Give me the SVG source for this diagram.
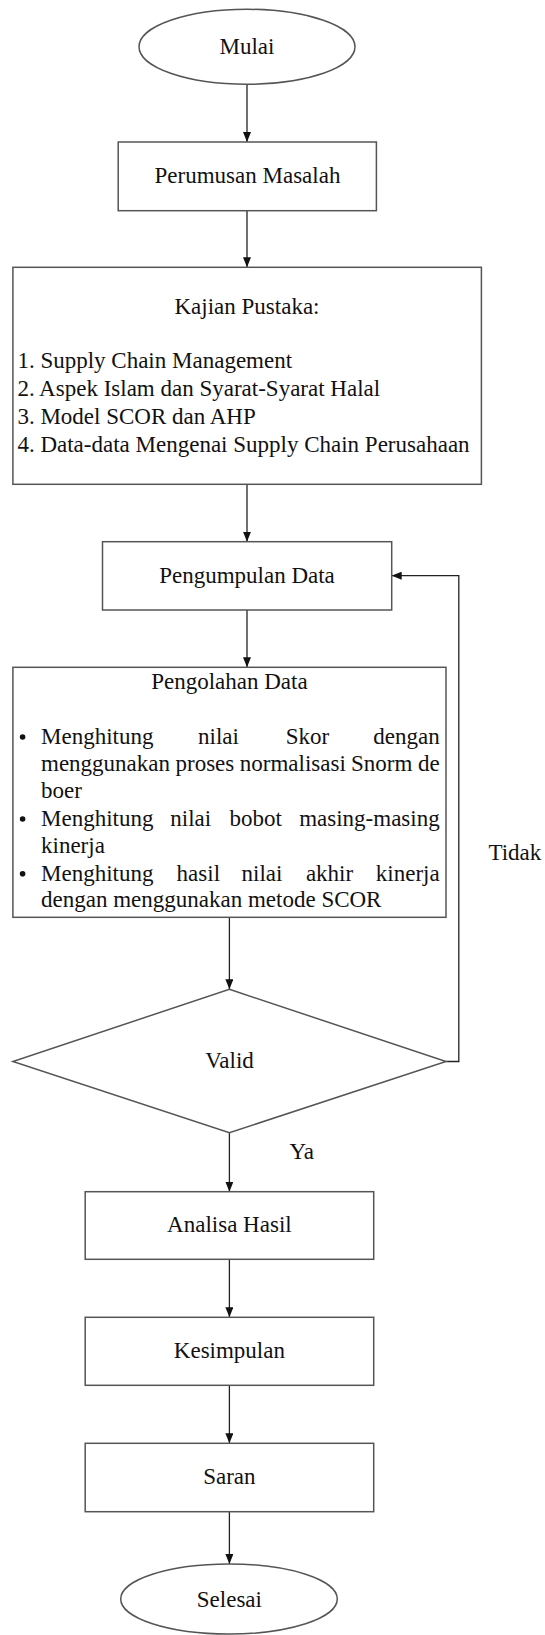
<svg xmlns="http://www.w3.org/2000/svg" width="545" height="1635" viewBox="0 0 545 1635" font-family="Liberation Serif, serif">
<style>
.box{fill:#fff;stroke:#555;stroke-width:1.5}
.t{font-family:'Liberation Serif',serif;font-size:23px;fill:#111}
.c{text-anchor:middle}
.e{text-anchor:end}
.ln{fill:none;stroke:#222;stroke-width:1.3}
</style>
<defs>
<marker id="ah" markerUnits="userSpaceOnUse" markerWidth="10" markerHeight="8" refX="10" refY="4" orient="auto">
<path d="M0,0 L10,4 L0,8 z" fill="#111"/>
</marker>
</defs>
<rect width="545" height="1635" fill="#fff"/>
<g id="connectors">
<line class="ln" x1="247" y1="84.5" x2="247" y2="142" marker-end="url(#ah)"/>
<line class="ln" x1="247" y1="210.7" x2="247" y2="267.3" marker-end="url(#ah)"/>
<line class="ln" x1="247" y1="484.3" x2="247" y2="541.7" marker-end="url(#ah)"/>
<line class="ln" x1="247" y1="610" x2="247" y2="667.3" marker-end="url(#ah)"/>
<line class="ln" x1="229.4" y1="917.3" x2="229.4" y2="989.3" marker-end="url(#ah)"/>
<polyline class="ln" points="446,1061.5 458.8,1061.5 458.8,575.7 391.7,575.7" marker-end="url(#ah)"/>
<line class="ln" x1="229.4" y1="1132.7" x2="229.4" y2="1191.7" marker-end="url(#ah)"/>
<line class="ln" x1="229.4" y1="1259.3" x2="229.4" y2="1317.3" marker-end="url(#ah)"/>
<line class="ln" x1="229.4" y1="1385.3" x2="229.4" y2="1443.3" marker-end="url(#ah)"/>
<line class="ln" x1="229.4" y1="1511.7" x2="229.4" y2="1564" marker-end="url(#ah)"/>
<text class="t" x="488.4" y="860">Tidak</text>
<text class="t" x="289.5" y="1159.3">Ya</text>
</g>
<g id="mulai">
<ellipse class="box" cx="247" cy="46.8" rx="108" ry="37.5"/>
<text class="t c" x="247" y="54">Mulai</text>
</g>
<g id="perumusan">
<rect class="box" x="118.2" y="142" width="258.2" height="68.7"/>
<text class="t c" x="247.5" y="183">Perumusan Masalah</text>
</g>
<g id="kajian">
<rect class="box" x="12.9" y="267.3" width="468.5" height="217"/>
<text class="t c" x="247" y="314">Kajian Pustaka:</text>
<text class="t" x="17.4" y="368.3">1. Supply Chain Management</text>
<text class="t" x="17.4" y="396.3">2. Aspek Islam dan Syarat-Syarat Halal</text>
<text class="t" x="17.4" y="424.3">3. Model SCOR dan AHP</text>
<text class="t" x="17.4" y="451.7">4. Data-data Mengenai Supply Chain Perusahaan</text>
</g>
<g id="pengumpulan">
<rect class="box" x="102.5" y="541.7" width="289.2" height="68.3"/>
<text class="t c" x="247" y="582.7">Pengumpulan Data</text>
</g>
<g id="pengolahan">
<rect class="box" x="12.9" y="667.3" width="433.1" height="250"/>
<text class="t c" x="229.4" y="689.3">Pengolahan Data</text>
<circle cx="22.6" cy="737" r="2.8" fill="#111"/>
<circle cx="22.6" cy="819" r="2.8" fill="#111"/>
<circle cx="22.6" cy="873.7" r="2.8" fill="#111"/>
<text class="t" y="744"><tspan x="41">Menghitung</tspan><tspan x="198.1">nilai</tspan><tspan x="285.7">Skor</tspan></text>
<text class="t e" x="439.7" y="744">dengan</text>
<text class="t" y="771"><tspan x="41">menggunakan</tspan><tspan x="175.5">proses</tspan><tspan x="239.8">normalisasi</tspan><tspan x="351">Snorm</tspan></text>
<text class="t e" x="439.7" y="771">de</text>
<text class="t" x="41" y="798.3">boer</text>
<text class="t" y="826"><tspan x="41">Menghitung</tspan><tspan x="170.3">nilai</tspan><tspan x="229.4">bobot</tspan></text>
<text class="t e" x="439.7" y="826">masing-masing</text>
<text class="t" x="41" y="853.3">kinerja</text>
<text class="t" y="880.7"><tspan x="41">Menghitung</tspan><tspan x="176.6">hasil</tspan><tspan x="241.6">nilai</tspan><tspan x="305.9">akhir</tspan></text>
<text class="t e" x="439.7" y="880.7">kinerja</text>
<text class="t" x="41" y="907.3">dengan menggunakan metode SCOR</text>
</g>
<g id="valid">
<polygon class="box" points="229.4,989.3 446,1061.5 229.4,1132.7 12.9,1061.5"/>
<text class="t c" x="229.6" y="1068.3">Valid</text>
</g>
<g id="analisa">
<rect class="box" x="85.2" y="1191.7" width="288.5" height="67.6"/>
<text class="t c" x="229.4" y="1232.3">Analisa Hasil</text>
</g>
<g id="kesimpulan">
<rect class="box" x="85.2" y="1317.3" width="288.5" height="68"/>
<text class="t c" x="229.4" y="1358.3">Kesimpulan</text>
</g>
<g id="saran">
<rect class="box" x="85.2" y="1443.3" width="288.5" height="68.4"/>
<text class="t c" x="229.4" y="1484">Saran</text>
</g>
<g id="selesai">
<ellipse class="box" cx="229" cy="1599" rx="108.3" ry="35"/>
<text class="t c" x="229.4" y="1607.3">Selesai</text>
</g>
</svg>
